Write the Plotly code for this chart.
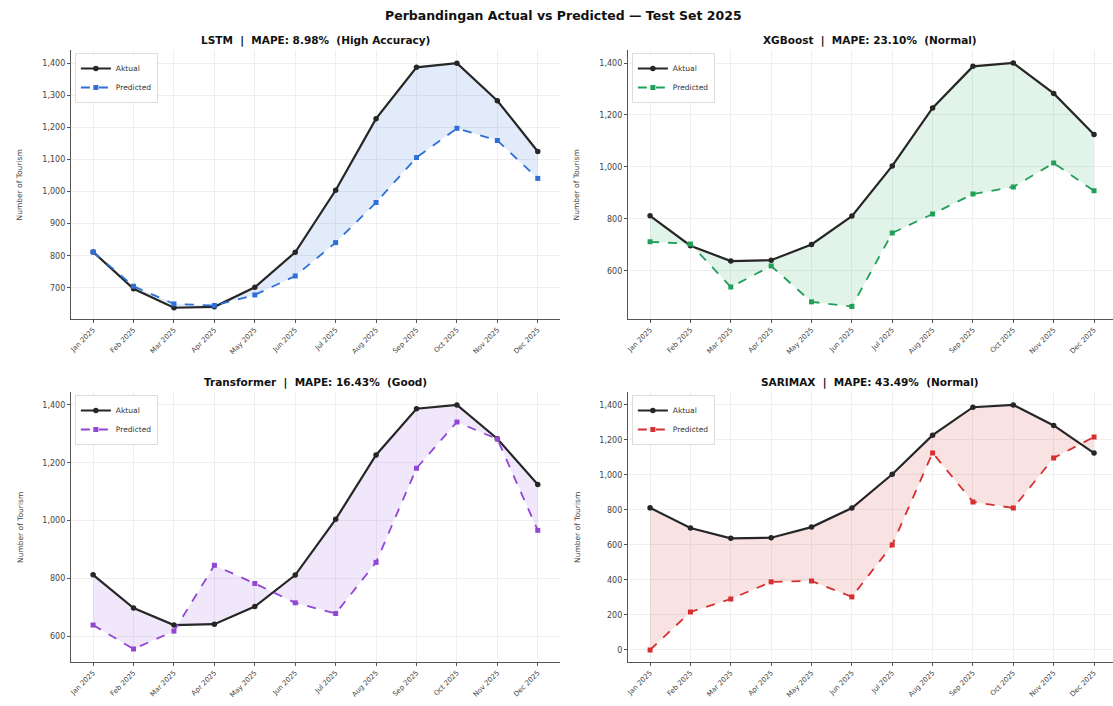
import plotly.graph_objects as go

months = ["Jan 2025", "Feb 2025", "Mar 2025", "Apr 2025", "May 2025", "Jun 2025",
          "Jul 2025", "Aug 2025", "Sep 2025", "Oct 2025", "Nov 2025", "Dec 2025"]

actual = [812, 697, 638, 641, 702, 811, 1004, 1227, 1387, 1400, 1283, 1125]

pred_lstm = [812, 705, 650, 645, 678, 737, 841, 966, 1106, 1197, 1159, 1041]
pred_xgb = [712, 704, 538, 619, 481, 463, 746, 819, 896, 923, 1015, 908]
pred_transformer = [638, 555, 617, 845, 782, 715, 678, 855, 1181, 1341, 1282, 966]
pred_sarimax = [0, 217, 291, 389, 394, 303, 600, 1126, 846, 811, 1097, 1217]

model_names = ["LSTM", "XGBoost", "Transformer", "SARIMAX"]
mape = ["8.98%", "23.10%", "16.43%", "43.49%"]
grades = ["High Accuracy", "Normal", "Good", "Normal"]

W, H = 1113, 706
FONT = "DejaVu Sans"
ACTUAL_COLOR = "#262626"

panels = [
    dict(pred=pred_lstm, color="#2f6fd8", fill="rgba(47,111,216,0.14)",
         px=(69, 559), py=(50, 319), yr=[603, 1441], dtick=100, xr=[-0.55, 11.55]),
    dict(pred=pred_xgb, color="#22a05a", fill="rgba(34,160,90,0.13)",
         px=(627, 1113), py=(50, 319), yr=[415, 1450], dtick=200, xr=[-0.55, 11.47]),
    dict(pred=pred_transformer, color="#9146d6", fill="rgba(145,70,214,0.13)",
         px=(69, 559), py=(392, 662), yr=[510, 1445], dtick=200, xr=[-0.55, 11.55]),
    dict(pred=pred_sarimax, color="#d62f2f", fill="rgba(214,47,47,0.14)",
         px=(627, 1113), py=(392, 662), yr=[-69, 1474], dtick=200, xr=[-0.55, 11.47]),
]

fig = go.Figure()
annotations = []
layout_axes = {}

for i, (p, name, m, g) in enumerate(zip(panels, model_names, mape, grades)):
    n = i + 1
    xa = "x" if n == 1 else f"x{n}"
    ya = "y" if n == 1 else f"y{n}"
    leg = "legend" if n == 1 else f"legend{n}"
    x0, x1 = p["px"][0] / W, p["px"][1] / W
    y0, y1 = 1 - p["py"][1] / H, 1 - p["py"][0] / H

    # shaded gap between actual and predicted
    fig.add_trace(go.Scatter(x=months, y=actual, mode="lines", line=dict(width=0),
                             hoverinfo="skip", showlegend=False, xaxis=xa, yaxis=ya))
    fig.add_trace(go.Scatter(x=months, y=p["pred"], mode="lines", line=dict(width=0),
                             fill="tonexty", fillcolor=p["fill"], hoverinfo="skip",
                             showlegend=False, xaxis=xa, yaxis=ya))
    fig.add_trace(go.Scatter(x=months, y=actual, mode="lines+markers", name="Aktual",
                             line=dict(color=ACTUAL_COLOR, width=2.2),
                             marker=dict(symbol="circle", size=5.5, color=ACTUAL_COLOR),
                             xaxis=xa, yaxis=ya, legend=leg))
    fig.add_trace(go.Scatter(x=months, y=p["pred"], mode="lines+markers", name="Predicted",
                             line=dict(color=p["color"], width=1.8, dash="dash"),
                             marker=dict(symbol="square", size=5, color=p["color"]),
                             xaxis=xa, yaxis=ya, legend=leg))

    xkey = "xaxis" if n == 1 else f"xaxis{n}"
    ykey = "yaxis" if n == 1 else f"yaxis{n}"
    layout_axes[xkey] = dict(
        domain=[x0, x1], anchor=ya, type="category", range=p["xr"],
        tickangle=-45, tickfont=dict(family=FONT, size=7, color="#444"),
        showline=True, linecolor="#555", linewidth=1, ticks="outside", ticklen=3,
        tickcolor="#555", showgrid=True, gridcolor="#efefef", gridwidth=1,
        zeroline=False, fixedrange=True,
    )
    layout_axes[ykey] = dict(
        domain=[y0, y1], anchor=xa, range=p["yr"], dtick=p["dtick"], tick0=0,
        tickformat=",d", tickfont=dict(family=FONT, size=8, color="#444"),
        showline=True, linecolor="#555", linewidth=1, ticks="outside", ticklen=3,
        tickcolor="#555", showgrid=True, gridcolor="#efefef", gridwidth=1,
        zeroline=False, fixedrange=True,
    )
    layout_axes[leg] = dict(
        x=x0 + 4 / W, y=y1 - 3 / H, xanchor="left", yanchor="top",
        bgcolor="rgba(255,255,255,0.9)", bordercolor="#dddddd", borderwidth=1,
        font=dict(family=FONT, size=7.5, color="#333"), itemwidth=30,
        tracegroupgap=0, traceorder="normal",
    )

    annotations.append(dict(
        text=f"<b>{name}  |  MAPE: {m}  ({g})</b>", x=(x0 + x1) / 2, y=1 - (p["py"][0] - 10) / H,
        xref="paper", yref="paper", showarrow=False, xanchor="center", yanchor="middle",
        font=dict(family=FONT, size=10.5, color="#111"),
    ))
    annotations.append(dict(
        text="Number of Tourism", x=(p["px"][0] - 51) / W, y=(y0 + y1) / 2,
        xref="paper", yref="paper", showarrow=False, textangle=-90,
        xanchor="center", yanchor="middle",
        font=dict(family=FONT, size=7.5, color="#444"),
    ))

annotations.append(dict(
    text="<b>Perbandingan Actual vs Predicted — Test Set 2025</b>", x=0.505, y=1 - 16 / H,
    xref="paper", yref="paper", showarrow=False, xanchor="center", yanchor="middle",
    font=dict(family=FONT, size=12.5, color="#111"),
))

fig.update_layout(
    width=W, height=H, margin=dict(l=0, r=0, t=0, b=0),
    paper_bgcolor="white", plot_bgcolor="white",
    annotations=annotations, **layout_axes,
)

fig.write_html("out.html")
